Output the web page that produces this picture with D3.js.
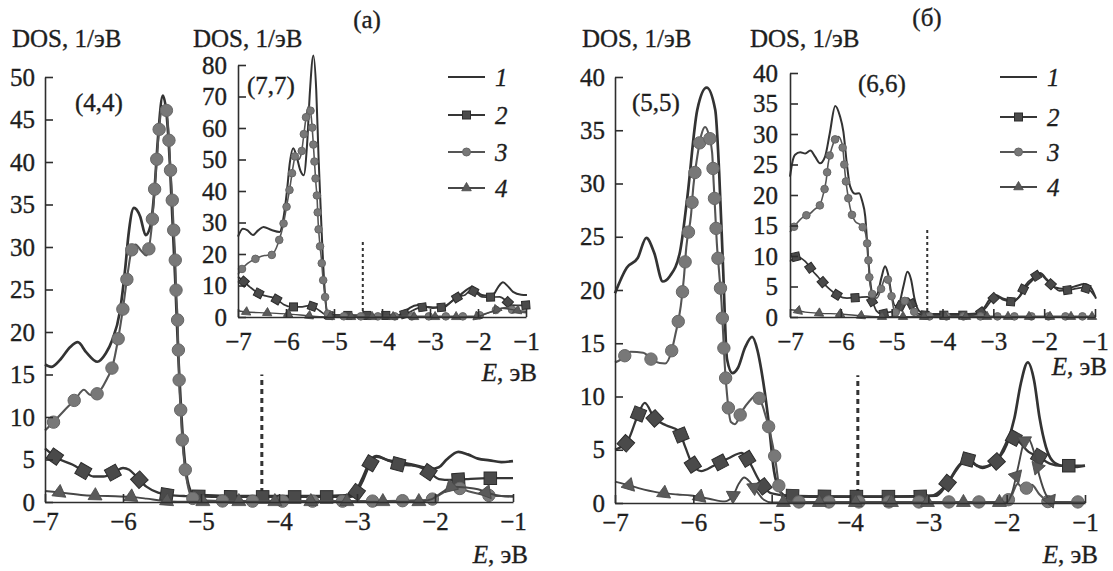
<!DOCTYPE html>
<html>
<head>
<meta charset="utf-8">
<script src="https://cdn.jsdelivr.net/npm/d3@7"></script>
<style>
  body { margin: 0; background: #fff; }
</style>
</head>
<body>
<svg id="chart" width="1113" height="571" style="font-family:'Liberation Serif','DejaVu Serif',serif"></svg>
<script>
// ---- data: [E (eV), DOS (1/eV)] ----
var xTicks = [-7, -6, -5, -4, -3, -2, -1];
var legendLabels = ['1', '2', '3', '4'];

// (a) main, (4,4)
var a44Ticks = [0, 5, 10, 15, 20, 25, 30, 35, 40, 45, 50];
var a44_1 = [[-7,16.2],[-6.92,15.9],[-6.8,16.8],[-6.68,18.2],[-6.58,18.8],[-6.47,17.6],[-6.33,16.5],[-6.22,17.5],[-6.14,19],[-6.04,22.4],[-5.97,27.6],[-5.93,31.4],[-5.86,34.6],[-5.78,33.6],[-5.71,31.4],[-5.65,32.4],[-5.6,36.3],[-5.55,43],[-5.49,47.8],[-5.44,45.5],[-5.4,40],[-5.37,34],[-5.33,26],[-5.29,17],[-5.25,10],[-5.21,5],[-5.16,2],[-5.1,1.0],[-5.0,0.8],[-4.5,0.7],[-3.5,0.7],[-3.1,0.8],[-3.0,1.5],[-2.92,3.0],[-2.82,5.0],[-2.75,5.4],[-2.6,4.9],[-2.4,4.6],[-2.2,4.2],[-2.05,3.9],[-1.95,4.1],[-1.85,5.0],[-1.7,5.9],[-1.58,5.6],[-1.45,5.1],[-1.3,4.9],[-1.15,4.7],[-1.0,4.8]];
var a44_2 = [[-7,6.3],[-6.85,5.2],[-6.65,4.4],[-6.5,3.6],[-6.38,3.0],[-6.25,3.0],[-6.1,3.6],[-6.0,4.0],[-5.92,3.8],[-5.83,3.0],[-5.7,1.8],[-5.55,1.1],[-5.4,0.8],[-5.2,0.7],[-4.5,0.6],[-3.5,0.6],[-3.08,0.6],[-3.0,1.2],[-2.92,2.6],[-2.83,4.5],[-2.75,5.3],[-2.6,4.9],[-2.45,4.4],[-2.3,4.3],[-2.17,4.0],[-2.05,3.3],[-1.95,2.7],[-1.8,2.6],[-1.6,2.7],[-1.3,2.8],[-1.0,2.8]];
var a44_3 = [[-7,8.4],[-6.89,9.4],[-6.75,10.8],[-6.61,12.1],[-6.5,13.2],[-6.42,12.6],[-6.34,12.7],[-6.2,14.6],[-6.14,15.8],[-6.06,19.3],[-6.0,22.8],[-5.95,26.2],[-5.89,29.6],[-5.84,30.3],[-5.77,29.6],[-5.7,29.0],[-5.63,32.6],[-5.6,36.1],[-5.57,40],[-5.54,43.5],[-5.5,46.5],[-5.46,46.5],[-5.42,44],[-5.4,40.5],[-5.37,35.8],[-5.35,32],[-5.33,28.5],[-5.32,24.9],[-5.3,21.4],[-5.29,17.9],[-5.28,14.3],[-5.26,10.8],[-5.24,7.3],[-5.2,3.7],[-5.15,1.2],[-5.1,0.4],[-5.0,0.2],[-4.5,0.1],[-3.0,0.1],[-2.2,0.2],[-2.05,0.3],[-1.95,0.8],[-1.8,1.5],[-1.7,1.6],[-1.55,1.2],[-1.4,0.9],[-1.2,0.7],[-1.0,0.7]];
var a44_4 = [[-7,1.3],[-6.8,1.1],[-6.5,0.8],[-6.2,0.7],[-5.9,0.6],[-5.7,0.4],[-5.5,0.15],[-5.3,0.05],[-4,0.05],[-2.2,0.05],[-2.05,0.3],[-1.9,1.2],[-1.78,1.8],[-1.6,1.7],[-1.45,1.5],[-1.3,1.0],[-1.15,0.7],[-1.0,0.6]];

// (a) inset, (7,7)
var a77Ticks = [0, 10, 20, 30, 40, 50, 60, 70, 80];
var a77_1 = [[-7,25.5],[-6.9,28],[-6.8,27.5],[-6.69,26],[-6.58,27.5],[-6.47,28.6],[-6.3,27.6],[-6.13,27],[-6.06,30.8],[-5.98,40],[-5.92,49],[-5.85,53.6],[-5.78,51],[-5.7,46.5],[-5.63,45],[-5.56,55],[-5.5,72],[-5.43,83],[-5.37,72],[-5.32,50],[-5.26,28],[-5.2,10],[-5.15,2],[-5.08,0.6],[-4.5,0.5],[-3.7,0.5],[-3.55,1.2],[-3.42,2.9],[-3.25,3.8],[-3.1,3.3],[-2.94,2.9],[-2.8,3.2],[-2.65,3.8],[-2.5,5.5],[-2.37,7],[-2.2,9.0],[-2.13,9.5],[-2.05,8.5],[-1.92,7],[-1.8,6.8],[-1.69,7],[-1.58,9.5],[-1.48,11],[-1.38,9.8],[-1.27,8],[-1.1,7.1],[-0.98,7]];
var a77_2 = [[-7,12.8],[-6.9,11.5],[-6.75,9.5],[-6.58,7.6],[-6.45,6.8],[-6.3,6.3],[-6.19,5.5],[-6.05,4.0],[-5.88,3.2],[-5.7,3.2],[-5.52,3.6],[-5.42,3.2],[-5.3,2.0],[-5.18,0.8],[-5.05,0.5],[-4.0,0.5],[-3.7,0.5],[-3.55,0.9],[-3.42,1.6],[-3.25,2.8],[-3.06,3.2],[-2.85,3.0],[-2.69,3.2],[-2.55,5.0],[-2.4,6.5],[-2.27,7.0],[-2.15,8.5],[-2.05,7.8],[-1.92,6.4],[-1.75,6.3],[-1.55,6.4],[-1.4,5.0],[-1.3,3.8],[-1.1,3.7],[-0.98,3.8]];
var a77_3 = [[-7,13.5],[-6.93,15],[-6.8,17],[-6.6,18.7],[-6.45,19.5],[-6.3,19.7],[-6.2,22],[-6.13,25],[-6.06,29],[-6.0,34],[-5.96,37.5],[-5.92,41],[-5.85,48],[-5.8,51.5],[-5.74,50],[-5.68,52],[-5.62,59],[-5.56,65.5],[-5.52,67],[-5.47,63],[-5.44,57],[-5.41,50],[-5.38,43],[-5.35,37],[-5.33,30],[-5.3,24],[-5.26,18],[-5.23,12.4],[-5.19,7],[-5.15,2],[-5.08,0.3],[-4.5,0.2],[-2.1,0.2],[-1.95,0.6],[-1.75,1.5],[-1.55,2.6],[-1.4,3.0],[-1.25,2.0],[-1.1,1.5],[-1.0,1.4]];
var a77_4 = [[-7,2.0],[-6.85,1.6],[-6.4,1.3],[-6.0,1.0],[-5.6,0.5],[-5.3,0.1],[-5.0,0.05],[-2.1,0.05],[-1.9,0.6],[-1.7,1.8],[-1.5,2.8],[-1.35,2.5],[-1.15,2.0],[-1.0,1.8]];

// (б) main, (5,5)
var b55Ticks = [0, 5, 10, 15, 20, 25, 30, 35, 40];
var b55_1 = [[-7,19.7],[-6.85,22.1],[-6.71,23.0],[-6.6,24.9],[-6.5,23.5],[-6.39,20.8],[-6.3,21.3],[-6.17,23.6],[-6.08,28.5],[-5.95,36.9],[-5.83,39.0],[-5.72,36.9],[-5.67,31],[-5.62,22],[-5.57,13.5],[-5.5,12.2],[-5.43,12.7],[-5.34,14.6],[-5.25,15.6],[-5.18,14.3],[-5.13,12.4],[-5.04,7.7],[-4.97,3.0],[-4.9,1.2],[-4.83,0.7],[-4.5,0.6],[-3.5,0.6],[-2.9,0.7],[-2.82,1.2],[-2.76,1.8],[-2.6,3.6],[-2.49,4.1],[-2.38,3.5],[-2.31,3.3],[-2.2,3.6],[-2.1,4.2],[-2.0,5.5],[-1.9,8],[-1.82,11.2],[-1.73,13.2],[-1.65,11.5],[-1.58,8],[-1.5,5.3],[-1.42,4.0],[-1.3,3.5],[-1.1,3.4],[-1.0,3.5]];
var b55_2 = [[-7,5.0],[-6.84,5.8],[-6.72,8.0],[-6.62,9.4],[-6.5,8.0],[-6.35,7.3],[-6.19,6.8],[-6.1,5.2],[-6.03,3.9],[-5.9,3.0],[-5.74,3.5],[-5.55,4.2],[-5.38,4.7],[-5.29,3.9],[-5.15,2.0],[-5.0,0.9],[-4.79,0.7],[-4.0,0.6],[-3.2,0.6],[-2.95,0.7],[-2.84,1.2],[-2.74,2.0],[-2.6,3.5],[-2.51,4.1],[-2.4,3.6],[-2.31,3.4],[-2.13,3.9],[-2.05,5.0],[-1.95,6.2],[-1.85,5.8],[-1.72,4.8],[-1.6,4.4],[-1.45,3.7],[-1.3,3.5],[-1.0,3.5]];
var b55_3 = [[-7,13.2],[-6.94,13.4],[-6.8,14.2],[-6.64,14.1],[-6.5,13.3],[-6.36,13.1],[-6.28,14.2],[-6.23,15.8],[-6.16,18.5],[-6.12,21.2],[-6.09,24.0],[-6.03,27.0],[-6.0,29.7],[-5.95,32.5],[-5.9,34.5],[-5.85,35.3],[-5.8,34.5],[-5.76,32.9],[-5.74,30.0],[-5.72,27.2],[-5.7,24.4],[-5.67,21.6],[-5.64,18.8],[-5.62,16.0],[-5.6,13.1],[-5.57,10.2],[-5.52,7.6],[-5.47,7.4],[-5.38,8.6],[-5.28,9.6],[-5.2,10.1],[-5.13,9.4],[-5.07,8.0],[-5.02,6.6],[-4.95,3.9],[-4.9,1.3],[-4.83,0.3],[-4.7,0.1],[-2.05,0.1],[-1.95,0.5],[-1.86,1.8],[-1.78,1.3],[-1.68,1.7],[-1.58,0.8],[-1.45,0.1],[-1.0,0.1]];
var b55_4 = [[-7,2.0],[-6.89,1.8],[-6.7,1.4],[-6.46,1.0],[-6.2,0.8],[-6.03,0.7],[-5.8,0.4],[-5.6,0.15],[-5.5,0.6],[-5.42,1.8],[-5.35,2.4],[-5.28,2.0],[-5.2,1.2],[-5.1,0.3],[-5.0,0.05],[-2.0,0.05],[-1.93,1.0],[-1.85,3.5],[-1.78,5.7],[-1.73,6.1],[-1.66,5.0],[-1.58,2.5],[-1.5,0.8],[-1.4,0.1],[-1.0,0.05]];

// (б) inset, (6,6)
var b66Ticks = [0, 5, 10, 15, 20, 25, 30, 35, 40];
var b66_1 = [[-7,23],[-6.95,25.5],[-6.9,26.6],[-6.8,27.0],[-6.7,26.8],[-6.6,27.3],[-6.5,26.2],[-6.41,25.2],[-6.31,26.3],[-6.22,30],[-6.11,34.6],[-6.02,33],[-5.95,30.4],[-5.88,25],[-5.82,21.5],[-5.72,20.2],[-5.64,20.3],[-5.58,19],[-5.52,16.5],[-5.46,9.4],[-5.4,4.5],[-5.35,3.3],[-5.28,3.8],[-5.2,6.5],[-5.13,8.3],[-5.07,7.0],[-5.0,3.5],[-4.93,1.8],[-4.85,2.3],[-4.77,5.0],[-4.69,7.4],[-4.62,6.2],[-4.55,3.0],[-4.45,0.9],[-4.3,0.5],[-3.5,0.5],[-3.3,0.6],[-3.2,1.3],[-3.05,3.1],[-2.96,3.6],[-2.8,3.0],[-2.6,2.7],[-2.5,3.2],[-2.35,5.0],[-2.2,6.3],[-2.08,7.2],[-1.95,6.2],[-1.8,4.9],[-1.6,4.6],[-1.4,5.0],[-1.2,5.4],[-1.08,4.8],[-0.98,3.0]];
var b66_2 = [[-7,9.1],[-6.87,9.9],[-6.7,9.1],[-6.55,7.5],[-6.45,6.6],[-6.3,5.2],[-6.21,4.5],[-6.05,3.5],[-5.88,3.1],[-5.65,3.2],[-5.48,3.3],[-5.38,2.5],[-5.3,1.0],[-5.2,0.5],[-5.05,0.8],[-4.95,1.0],[-4.85,1.5],[-4.75,3.0],[-4.68,3.1],[-4.6,2.0],[-4.5,0.6],[-4.3,0.3],[-3.4,0.3],[-3.25,0.7],[-3.16,1.4],[-3.05,2.6],[-2.93,3.4],[-2.8,2.8],[-2.6,2.5],[-2.48,3.5],[-2.37,5.2],[-2.2,6.5],[-2.08,7.0],[-1.95,6.0],[-1.82,5.0],[-1.7,4.3],[-1.55,4.4],[-1.4,4.6],[-1.25,4.8],[-1.12,4.5],[-1.0,3.3]];
var b66_3 = [[-7,13.9],[-6.9,15],[-6.74,16.4],[-6.6,17],[-6.51,17.7],[-6.42,18.2],[-6.35,20],[-6.29,22.3],[-6.25,25.1],[-6.17,27.9],[-6.1,29.3],[-6.05,29.6],[-5.98,28.5],[-5.95,26.8],[-5.92,23.8],[-5.88,21],[-5.82,18],[-5.72,15.7],[-5.6,15],[-5.52,13.9],[-5.47,11],[-5.43,5.6],[-5.35,3.3],[-5.29,3.1],[-5.2,4.8],[-5.12,6.6],[-5.05,5.5],[-5.0,3.3],[-4.95,1.0],[-4.88,0.6],[-4.75,2.6],[-4.68,2.8],[-4.6,1.5],[-4.5,0.3],[-4.3,0.1],[-1.0,0.1]];
var b66_4 = [[-7,1.2],[-6.9,1.1],[-6.7,0.8],[-6.4,0.6],[-6.0,0.5],[-5.6,0.2],[-5.3,0.05],[-1.0,0.05]];

// ---- styles ----
var FONT = "'Liberation Serif', 'DejaVu Serif', serif";
var lineStyles = [
  { stroke: '#333', width: 2.7, marker: null },
  { stroke: '#363636', width: 2.3, marker: 'square' },
  { stroke: '#555', width: 2.1, marker: 'circle' },
  { stroke: '#474747', width: 1.9, marker: 'triangle' }
];

var svg = d3.select('#chart');

// scanned print looks a bit heavier, so give text a hairline outline
function label(sel, size) {
  return sel.style('font-family', FONT).style('font-size', size + 'px')
    .attr('fill', '#1e1e1e').attr('stroke', '#1e1e1e').attr('stroke-width', 0.35);
}

function drawMarker(g, type, px, py, ang, m) {
  var tr = 'translate(' + px + ',' + py + ') rotate(' + ang + ')';
  if (type === 'square') {
    g.append('rect')
      .attr('x', -m.sq / 2).attr('y', -m.sq / 2)
      .attr('width', m.sq).attr('height', m.sq)
      .attr('fill', '#4a4a4a').attr('stroke', '#2c2c2c').attr('stroke-width', 1)
      .attr('transform', tr);
  } else if (type === 'circle') {
    g.append('circle')
      .attr('cx', px).attr('cy', py).attr('r', m.r)
      .attr('fill', '#787878').attr('stroke', '#666').attr('stroke-width', 1);
  } else if (type === 'triangle') {
    g.append('path')
      .attr('d', d3.symbol(d3.symbolTriangle, m.tri)())
      .attr('fill', '#5a5a5a').attr('stroke', '#474747').attr('stroke-width', 0.8)
      .attr('transform', tr);
  }
}

// markers are spread evenly along the drawn curve
function markersAlong(g, node, type, spacing, m) {
  var L = node.getTotalLength();
  for (var s = spacing * 0.4; s <= L; s += spacing) {
    var p = node.getPointAtLength(s);
    var a = node.getPointAtLength(Math.max(0, s - 1.5));
    var b = node.getPointAtLength(Math.min(L, s + 1.5));
    var ang = Math.atan2(b.y - a.y, b.x - a.x) * 180 / Math.PI;
    drawMarker(g, type, p.x, p.y, ang, m);
  }
}

function drawPanel(p) {
  var x = d3.scaleLinear().domain([-7, -1]).range([p.left, p.right]);
  var y = d3.scaleLinear().domain([0, p.yMax]).range([p.bottom, p.top]);
  var g = svg.append('g');

  var line = d3.line()
    .x(function(d) { return x(d[0]); })
    .y(function(d) { return y(d[1]); })
    .curve(d3.curveMonotoneX);

  // dotted vertical line
  g.append('line')
    .attr('x1', x(p.dotE)).attr('x2', x(p.dotE))
    .attr('y1', y(0)).attr('y2', y(p.dotTop))
    .attr('stroke', '#333').attr('stroke-width', p.dotW)
    .attr('stroke-dasharray', p.dotDash);

  p.series.forEach(function(data, i) {
    var st = lineStyles[i];
    var path = g.append('path')
      .attr('d', line(data))
      .attr('fill', 'none')
      .attr('stroke', st.stroke)
      .attr('stroke-width', st.width * p.lw)
      .attr('stroke-linejoin', 'round');
    if (st.marker) {
      markersAlong(g, path.node(), st.marker, p.spacing[st.marker], p.m);
    }
  });

  // axes
  var fmt = d3.format('d');
  var gx = g.append('g')
    .attr('transform', 'translate(0,' + p.bottom + ')')
    .call(d3.axisBottom(x).tickValues(xTicks).tickFormat(fmt)
      .tickSizeInner(-8).tickSizeOuter(0).tickPadding(p.xPad));
  var gy = g.append('g')
    .attr('transform', 'translate(' + p.left + ',0)')
    .call(d3.axisLeft(y).tickValues(p.yTicks).tickFormat(fmt)
      .tickSizeInner(-8).tickSizeOuter(0).tickPadding(p.yPad));

  [gx, gy].forEach(function(ax) {
    ax.attr('font-family', null).attr('font-size', null);
    ax.select('.domain').attr('stroke', '#2e2e2e').attr('stroke-width', 1.6);
    ax.selectAll('.tick line').attr('stroke', '#2e2e2e').attr('stroke-width', 1.6);
    label(ax.selectAll('.tick text'), 25);
  });

  // axis titles and tag
  label(g.append('text').attr('x', p.dosX).attr('y', 47), 25).text('DOS, 1/эВ');
  var et = label(g.append('text').attr('x', p.eX).attr('y', p.eY).attr('text-anchor', 'end'), 25);
  et.append('tspan').style('font-style', 'italic').text('E');
  et.append('tspan').text(', эВ');
  label(g.append('text').attr('x', p.tagX).attr('y', p.tagY), 25).text(p.tag);

  // legend
  if (p.legend) {
    var lg = p.legend;
    legendLabels.forEach(function(lab, i) {
      var st = lineStyles[i];
      var ly = lg.ys[i];
      g.append('line')
        .attr('x1', lg.x).attr('x2', lg.x + 37)
        .attr('y1', ly).attr('y2', ly)
        .attr('stroke', st.stroke).attr('stroke-width', 2);
      if (st.marker) drawMarker(g, st.marker, lg.x + 18.5, ly, 0, { sq: 8, r: 4, tri: 40 });
      label(g.append('text').attr('x', lg.x + 47).attr('y', ly + 9), 25)
        .style('font-style', 'italic').text(lab);
    });
  }
}

var mainMarks = { sq: 12.5, r: 6.2, tri: 85 };
var insetMarks = { sq: 8, r: 3.8, tri: 38 };

drawPanel({
  left: 45, right: 513, top: 77, bottom: 502, yMax: 50, yTicks: a44Ticks,
  series: [a44_1, a44_2, a44_3, a44_4], lw: 1, m: mainMarks,
  spacing: { square: 32, circle: 30, triangle: 36 },
  xPad: 10, yPad: 10, dotE: -4.22, dotTop: 15, dotW: 3, dotDash: '5,4',
  dosX: 12, eX: 528, eY: 563, tag: '(4,4)', tagX: 75, tagY: 111
});
drawPanel({
  left: 238, right: 526, top: 65, bottom: 317, yMax: 80, yTicks: a77Ticks,
  series: [a77_1, a77_2, a77_3, a77_4], lw: 0.75, m: insetMarks,
  spacing: { square: 19, circle: 17, triangle: 21 },
  xPad: 15, yPad: 11, dotE: -4.4, dotTop: 24, dotW: 2, dotDash: '3,3',
  dosX: 193, eX: 537, eY: 381, tag: '(7,7)', tagX: 247, tagY: 94,
  legend: { x: 448, ys: [77, 115, 152, 188] }
});
drawPanel({
  left: 615, right: 1085, top: 77, bottom: 503, yMax: 40, yTicks: b55Ticks,
  series: [b55_1, b55_2, b55_3, b55_4], lw: 1, m: mainMarks,
  spacing: { square: 32, circle: 30, triangle: 36 },
  xPad: 10, yPad: 10, dotE: -3.9, dotTop: 12, dotW: 3, dotDash: '5,4',
  dosX: 582, eX: 1098, eY: 563, tag: '(5,5)', tagX: 632, tagY: 111
});
drawPanel({
  left: 790, right: 1095, top: 73, bottom: 317, yMax: 40, yTicks: b66Ticks,
  series: [b66_1, b66_2, b66_3, b66_4], lw: 0.75, m: insetMarks,
  spacing: { square: 19, circle: 17, triangle: 21 },
  xPad: 15, yPad: 12, dotE: -4.3, dotTop: 14.5, dotW: 2, dotDash: '3,3',
  dosX: 750, eX: 1107, eY: 375, tag: '(6,6)', tagX: 858, tagY: 92,
  legend: { x: 1000, ys: [77, 117, 152, 187] }
});

// panel letters
label(svg.append('text').attr('x', 367).attr('y', 28).attr('text-anchor', 'middle'), 25).text('(а)');
label(svg.append('text').attr('x', 927).attr('y', 26).attr('text-anchor', 'middle'), 25).text('(б)');
</script>
</body>
</html>
